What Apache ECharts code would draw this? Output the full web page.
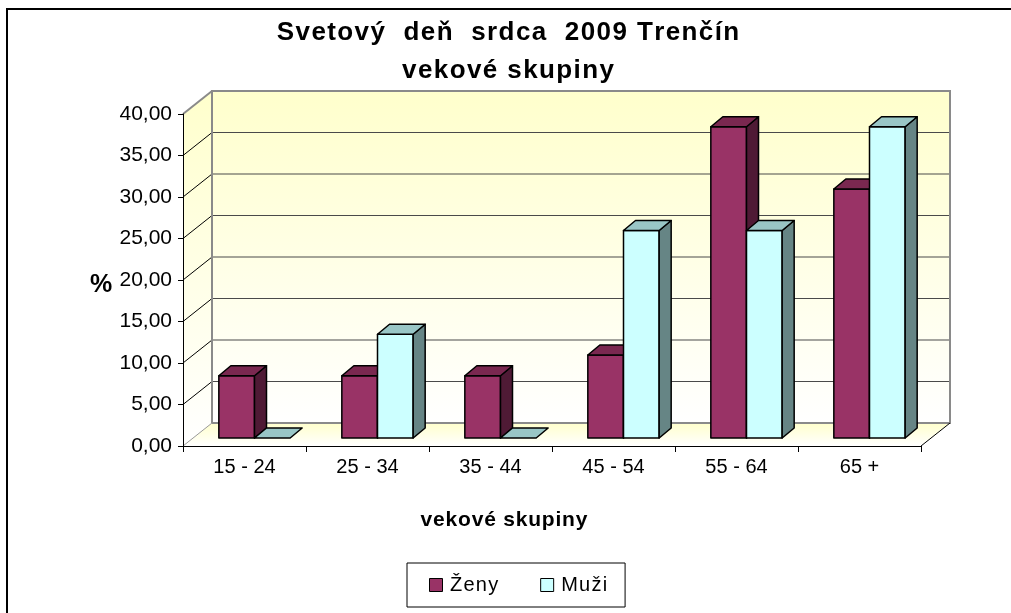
<!DOCTYPE html>
<html>
<head>
<meta charset="utf-8">
<script src="https://cdn.jsdelivr.net/npm/echarts@6/dist/echarts.min.js"></script>
<style>
html,body{margin:0;padding:0;background:#fff;}
#c{width:1011px;height:613px;}
</style>
</head>
<body>
<div id="c"></div>
<script>
const categories = ['15 - 24', '25 - 34', '35 - 44', '45 - 54', '55 - 64', '65 +'];
const zeny = [7.5, 7.5, 7.5, 10, 37.5, 30];
const muzi = [0, 12.5, 0, 25, 25, 37.5];
const seriesNames = ['Ženy', 'Muži'];
const yMin = 0, yMax = 40, yStep = 5;
const titleText = 'Svetový  deň  srdca  2009 Trenčín\nvekové skupiny';
const xName = 'vekové skupiny';
const yName = '%';

const FONT = '"Liberation Sans", Arial, sans-serif';
const WALL = { x: 29, y: -23 };
const BAR_OFF = { x: 10, y: -8 };
const BAR_DEPTH = { x: 12, y: -10 };
const BAR_RATIO = 0.29;

const palette = [
  { front: '#993366', top: '#7a2850', side: '#4f1a35' },
  { front: '#ccffff', top: '#99c6c6', side: '#668585' }
];

function sp(str, tag) {
  return str.split('\n').map(line =>
    line.split('').map(ch => '{' + tag + '|' + ch + '}').join('')
  ).join('\n');
}

const chart = echarts.init(document.getElementById('c'));

function wallRender(params, api) {
  const cs = params.coordSys;
  const L = cs.x, R = cs.x + cs.width;
  const B = api.coord([0, yMin])[1];
  const T = api.coord([0, yMax])[1];
  const wx = WALL.x, wy = WALL.y;
  const wallGrad = new echarts.graphic.LinearGradient(0, 0, 0, 1, [
    { offset: 0, color: '#ffffcc' }, { offset: 1, color: '#ffffff' }
  ]);
  const floorGrad = new echarts.graphic.LinearGradient(0, 0, 0, 1, [
    { offset: 0, color: '#ffffcc' }, { offset: 1, color: '#ffffff' }
  ]);
  const children = [];
  children.push({ type: 'polygon', shape: { points: [[L, B], [L + wx, B + wy], [L + wx, T + wy], [L, T]] },
    style: { fill: wallGrad, stroke: null } });
  children.push({ type: 'polygon', shape: { points: [[L + wx, T + wy], [R + wx, T + wy], [R + wx, B + wy], [L + wx, B + wy]] },
    style: { fill: wallGrad, stroke: null } });
  children.push({ type: 'polygon', shape: { points: [[L, B], [L + wx, B + wy], [R + wx, B + wy], [R, B]] },
    style: { fill: floorGrad, stroke: null } });
  for (let v = yMin + yStep; v < yMax; v += yStep) {
    const y = api.coord([0, v])[1];
    children.push({ type: 'line', shape: { x1: L + wx, y1: y + wy, x2: R + wx, y2: y + wy },
      style: { stroke: '#4a4a4a', lineWidth: 1.2 } });
    children.push({ type: 'line', shape: { x1: L, y1: y, x2: L + wx, y2: y + wy },
      style: { stroke: '#000', lineWidth: 1 } });
  }
  children.push({ type: 'polyline', shape: { points: [[L + wx, B + wy], [L + wx, T + wy], [R + wx, T + wy], [R + wx, B + wy], [L + wx, B + wy]] },
    style: { stroke: '#8a8a8a', lineWidth: 2, fill: null } });
  children.push({ type: 'line', shape: { x1: L, y1: T, x2: L + wx, y2: T + wy },
    style: { stroke: '#8a8a8a', lineWidth: 2 } });
  children.push({ type: 'line', shape: { x1: L, y1: B, x2: L + wx, y2: B + wy },
    style: { stroke: '#9a9a9a', lineWidth: 1 } });
  children.push({ type: 'line', shape: { x1: R, y1: B, x2: R + wx, y2: B + wy },
    style: { stroke: '#000', lineWidth: 1 } });
  return { type: 'group', children: children };
}

function barRender(si) {
  return function (params, api) {
    const cat = api.value(0), val = api.value(1);
    const base = api.coord([cat, 0]);
    const top = api.coord([cat, val]);
    const band = api.size([1, 0])[0];
    const bw = band * BAR_RATIO;
    const cx = base[0] + BAR_OFF.x;
    const x0 = si === 0 ? cx - bw : cx;
    const x1 = x0 + bw;
    const yb = base[1] + BAR_OFF.y, yt = top[1] + BAR_OFF.y;
    const dx = BAR_DEPTH.x, dy = BAR_DEPTH.y;
    const c = palette[si];
    const st = { stroke: '#000', lineWidth: 1.5, lineJoin: 'round' };
    const children = [];
    if (yb - yt > 0.5) {
      children.push({ type: 'polygon', shape: { points: [[x0, yb], [x0, yt], [x1, yt], [x1, yb]] },
        style: Object.assign({ fill: c.front }, st) });
      children.push({ type: 'polygon', shape: { points: [[x1, yt], [x1 + dx, yt + dy], [x1 + dx, yb + dy], [x1, yb]] },
        style: Object.assign({ fill: c.side }, st) });
    }
    children.push({ type: 'polygon', shape: { points: [[x0, yt], [x0 + dx, yt + dy], [x1 + dx, yt + dy], [x1, yt]] },
      style: Object.assign({ fill: c.top }, st) });
    return { type: 'group', children: children };
  };
}

const option = {
  animation: false,
  backgroundColor: '#ffffff',
  graphic: [{
    type: 'rect', z: -10, silent: true,
    shape: { x: 7, y: 9, width: 1200, height: 800 },
    style: { fill: null, stroke: '#000', lineWidth: 2 }
  }],
  title: [
    {
      text: sp(titleText, 't'), left: 503, top: 9, textAlign: 'center',
      textStyle: { rich: { t: { fontSize: 26, fontWeight: 'bold', fontFamily: FONT, color: '#000', padding: [0, 0.7], lineHeight: 38 } } }
    },
    {
      text: sp(xName, 'n'), left: 499, top: 505, textAlign: 'center',
      textStyle: { rich: { n: { fontSize: 21, fontWeight: 'bold', fontFamily: FONT, color: '#000', padding: [0, 0.4] } } }
    },
    {
      text: yName, left: 96, top: 268, textAlign: 'center',
      textStyle: { fontSize: 25, fontWeight: 'bold', fontFamily: FONT, color: '#000' }
    }
  ],
  legend: {
    data: seriesNames,
    left: 407, top: 563,
    padding: [12, 18, 12, 22],
    itemGap: 42,
    itemWidth: 13, itemHeight: 13,
    icon: 'rect',
    borderColor: '#000', borderWidth: 1,
    itemStyle: { borderColor: '#000', borderWidth: 1 },
    formatter: name => sp(name, 'l'),
    textStyle: { padding: [0, 0, 0, 2], rich: { l: { fontSize: 20, fontFamily: FONT, color: '#000', padding: [0, 0.6] } } }
  },
  grid: { left: 183, top: 114, width: 738, height: 332, containLabel: false },
  xAxis: {
    type: 'category', data: categories, z: 5,
    axisLine: { show: true, lineStyle: { color: '#000', width: 1 } },
    axisTick: { show: true, interval: 0, length: 6, lineStyle: { color: '#000' } },
    axisLabel: { interval: 0, margin: 11, fontSize: 20, fontFamily: FONT, color: '#000' },
    splitLine: { show: false }
  },
  yAxis: {
    type: 'value', min: yMin, max: yMax, interval: yStep, z: 5,
    axisLine: { show: true, lineStyle: { color: '#000', width: 1 } },
    axisTick: { show: true, length: 5, lineStyle: { color: '#000' } },
    axisLabel: { margin: 11, fontSize: 21, fontFamily: FONT, color: '#000',
      formatter: v => v.toFixed(2).replace('.', ',') },
    splitLine: { show: false }
  },
  series: [
    { type: 'custom', name: '_walls', silent: true, z: 1, renderItem: wallRender, data: [[0, 0]], encode: { x: 0, y: 1 } },
    { type: 'custom', name: seriesNames[0], z: 3, renderItem: barRender(0),
      itemStyle: { color: palette[0].front, borderColor: '#000' },
      data: categories.map((c, i) => [i, zeny[i]]), encode: { x: 0, y: 1 } },
    { type: 'custom', name: seriesNames[1], z: 3, renderItem: barRender(1),
      itemStyle: { color: palette[1].front, borderColor: '#000' },
      data: categories.map((c, i) => [i, muzi[i]]), encode: { x: 0, y: 1 } }
  ]
};
chart.setOption(option);
</script>
</body>
</html>
